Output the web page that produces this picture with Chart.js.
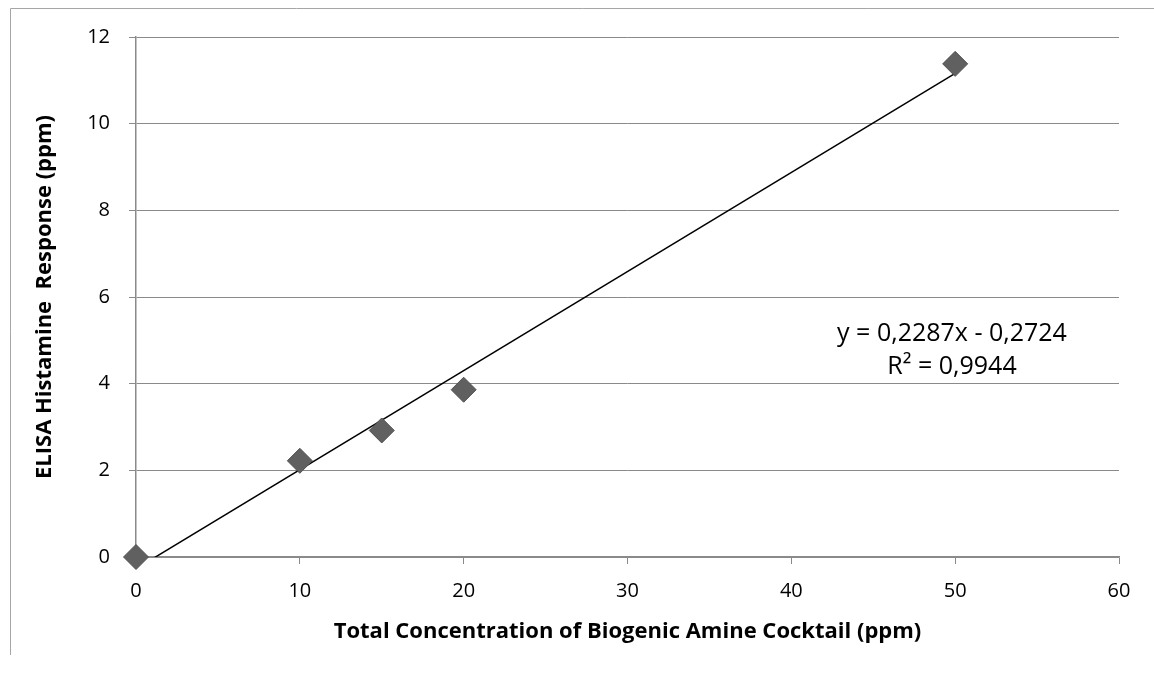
<!DOCTYPE html>
<html>
<head>
<meta charset="utf-8">
<script src="https://cdn.jsdelivr.net/npm/chart.js@4"></script>
<style>
  html, body { margin: 0; padding: 0; background: #fff; }
  #wrap { width: 1154px; height: 675px; }
</style>
</head>
<body>
<div id="wrap"><canvas id="elisa"></canvas></div>
<script>
// measured points
const concX = [0, 10, 15, 20, 50];
const responseY = [0, 2.22, 2.92, 3.86, 11.38];
// linear trendline end points (from the fitted equation)
const trendX = [0, 50];
const trendY = [-0.2724, 11.1626];
const xTicks = [0, 10, 20, 30, 40, 50, 60];
const yTicks = [0, 2, 4, 6, 8, 10, 12];
const eqLines = ["y = 0,2287x - 0,2724", "R\u00B2 = 0,9944"];

const FONT = "'Open Sans', sans-serif";
const GRID = "#8a8a8a";

// frame edge + trendline label
const extras = {
  id: "extras",
  beforeDraw(chart) {
    const c = chart.ctx;
    c.save();
    c.strokeStyle = "#a6a6a6";
    c.lineWidth = 1;
    c.beginPath();
    c.moveTo(10.5, 655);
    c.lineTo(10.5, 8.5);
    c.lineTo(1154, 8.5);
    c.stroke();
    c.restore();
  },
  afterDraw(chart) {
    const c = chart.ctx;
    c.save();
    c.fillStyle = "#000";
    c.font = "25px " + FONT;
    c.textAlign = "center";
    c.textBaseline = "middle";
    c.fillText(eqLines[0], 952, 334);
    c.fillText(eqLines[1], 952, 367);
    c.restore();
  }
};

const ctx = document.getElementById("elisa").getContext("2d");
const chart = new Chart(ctx, {
  type: "scatter",
  data: {
    datasets: [
      {
        label: "trend",
        type: "line",
        data: trendX.map((x, i) => ({ x: x, y: trendY[i] })),
        borderColor: "#000",
        borderWidth: 1.5,
        pointRadius: 0,
        fill: false,
        order: 2
      },
      {
        label: "ELISA",
        data: concX.map((x, i) => ({ x: x, y: responseY[i] })),
        pointStyle: "rectRot",
        pointRadius: 12.5,
        pointHoverRadius: 12.5,
        backgroundColor: "#606060",
        borderColor: "#505050",
        borderWidth: 1,
        clip: false,
        order: 1
      }
    ]
  },
  options: {
    responsive: true,
    maintainAspectRatio: false,
    animation: false,
    layout: { padding: { left: 32, right: 35, top: 37, bottom: 30 } },
    plugins: {
      legend: { display: false },
      tooltip: { enabled: false }
    },
    scales: {
      x: {
        type: "linear",
        min: 0,
        max: 60,
        afterBuildTicks: (s) => { s.ticks = xTicks.map(v => ({ value: v })); },
        ticks: { color: "#000", font: { family: FONT, size: 20 }, padding: 15 },
        grid: { drawOnChartArea: false, drawTicks: true, tickLength: 7, color: GRID },
        border: { display: true, color: GRID, width: 1.5 },
        title: {
          display: true,
          text: "Total Concentration of Biogenic Amine Cocktail (ppm)",
          color: "#000",
          font: { family: FONT, size: 22, weight: "bold" },
          padding: { top: 4, bottom: 0 }
        },
        afterFit: (s) => { s.height = 645 - 557; }
      },
      y: {
        type: "linear",
        min: 0,
        max: 12,
        afterBuildTicks: (s) => { s.ticks = yTicks.map(v => ({ value: v })); },
        ticks: { color: "#000", font: { family: FONT, size: 20 }, padding: 19 },
        grid: { color: GRID, lineWidth: 1, tickLength: 7 },
        border: { display: true, color: GRID, width: 1.5 },
        title: {
          display: true,
          text: "ELISA Histamine  Response (ppm)",
          color: "#000",
          font: { family: FONT, size: 22, weight: "bold" },
          padding: { top: 0, bottom: 4 }
        },
        afterFit: (s) => { s.width = 136 - 32; }
      }
    }
  },
  plugins: [extras]
});
</script>
</body>
</html>
